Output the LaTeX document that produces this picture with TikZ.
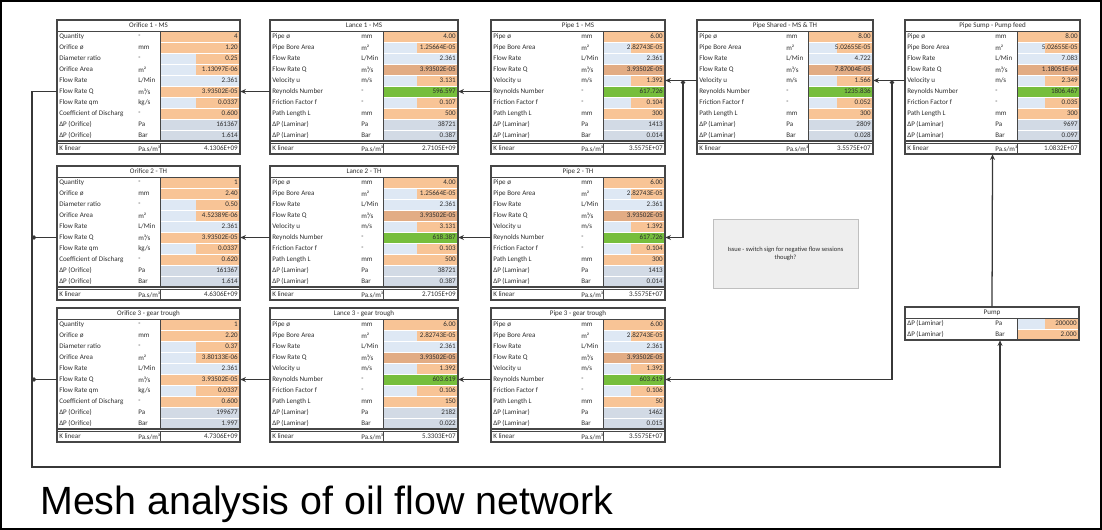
\documentclass[tikz,border=0pt]{standalone}
\usepackage{fontspec}
\setmainfont{Liberation Sans}
\newfontfamily\cellfamily{Carlito}
\usetikzlibrary{arrows.meta,calc}

\definecolor{cellorange}{RGB}{248,196,150}
\definecolor{cellblue}{RGB}{222,232,244}
\definecolor{cellgray}{RGB}{210,218,229}
\definecolor{cellgreen}{RGB}{118,190,60}
\definecolor{cellbrown}{RGB}{226,172,132}
\definecolor{celltext}{RGB}{45,45,45}
\definecolor{framegray}{RGB}{70,70,70}
\definecolor{linegray}{RGB}{55,55,55}
\definecolor{notefill}{RGB}{238,238,238}

\newcommand{\px}{0.025cm}
\newcommand{\cellfont}{\cellfamily\fontsize{5}{6}\selectfont}

\tikzset{
  tabrow/.style={inner sep=0pt, minimum height=11*\px},
  celltxt/.style={inner sep=0pt, font=\cellfont, text=celltext},
  tabframe/.style={draw=framegray, line width=0.8pt},
  tabline/.style={draw=framegray, line width=0.4pt},
  cello/.style={fill=cellorange},
  cellb/.style={fill=cellblue},
  cellp/.style={fill=cellgray},
  cellg/.style={fill=cellgreen},
  cellq/.style={fill=cellbrown},
  cellm/.style={fill=cellblue, path picture={\fill[cellorange]
      ($(path picture bounding box.south west)!0.45!(path picture bounding box.south east)$)
      rectangle (path picture bounding box.north east);}},
  flow/.style={draw=linegray, line width=0.9pt},
  tip/.style={-{Stealth[length=4pt,width=3.5pt]}},
  joint/.style={{Circle[length=3pt]}-{Stealth[length=4pt,width=3.5pt]}},
  endjoint/.style={-{Circle[length=3pt]}},
  notebox/.style={fill=notefill, draw=black!25, inner sep=2pt,
    font=\cellfamily\fontsize{4.6}{5.6}\selectfont, text=celltext,
    align=center, minimum width=145*\px, minimum height=69*\px},
}

% one spreadsheet block: name, left, top, width, value width, title, rows, K linear, row count
\newcommand{\flowtab}[9]{%
  \begin{scope}[shift={(#2,#3)}]
    \node[tabrow, celltxt, minimum width=#4*\px] (#1) at (#4/2,5.5) {#6};
    \foreach \lab/\unit/\val/\k [count=\i] in {#7} {
      \path[cell\k, draw=white, line width=0.5pt] (#4-#5,11*\i) rectangle (#4,11*\i+11);
      \node[tabrow, minimum width=#4*\px] (#1-\i) at (#4/2,11*\i+5.5) {};
      \node[celltxt, anchor=west] (#1-\i-l) at (2,11*\i+5.5) {\lab};
      \node[celltxt, anchor=west] (#1-\i-u) at (#4-#5-22,11*\i+5.5) {\unit};
      \node[celltxt, anchor=east] (#1-\i-v) at (#4-2,11*\i+5.5) {\val};
    }
    \draw[tabline] (0,11) -- (#4,11) (#4-#5,11) -- (#4-#5,11+11*#9);
    \ifx\relax#8\relax
      \draw[tabframe] (0,0) rectangle (#4,11+11*#9);
    \else
      \node[tabrow, minimum width=#4*\px] (#1-k) at (#4/2,18.5+11*#9) {};
      \node[celltxt, anchor=west] (#1-k-l) at (2,18.5+11*#9) {K linear};
      \node[celltxt, anchor=west] (#1-k-u) at (#4-#5-22,18.5+11*#9) {Pa.s/m³};
      \node[celltxt, anchor=east] (#1-k-v) at (#4-2,18.5+11*#9) {#8};
      \draw[tabline] (0,13+11*#9) -- (#4,13+11*#9) (#4-#5,13+11*#9) -- (#4-#5,24+11*#9);
      \draw[tabframe] (0,11+11*#9) -- (#4,11+11*#9);
      \draw[tabframe] (0,0) rectangle (#4,24+11*#9);
    \fi
  \end{scope}}

\begin{document}
\begin{tikzpicture}[x=\px,y=-\px]
  \useasboundingbox (0,0) rectangle (1102,530);
  \draw[line width=1.4pt] (1,1) rectangle (1101,529);

  % orifices
  \flowtab{o1}{57}{20}{183}{80}{Orifice 1 - MS}{Quantity/-/4/o, Orifice ø/mm/1.20/o,
    Diameter ratio/-/0.25/m, Orifice Area/m²/1.13097E-06/m, Flow Rate/{L/Min}/2.361/b,
    Flow Rate Q/{m³/s}/3.93502E-05/o, Flow Rate qm/{kg/s}/0.0337/m,
    Coefficient of Discharg/-/0.600/o, ΔP (Orifice)/Pa/161367/p, ΔP (Orifice)/Bar/1.614/p}{4.1306E+09}{10}
  \flowtab{o2}{57}{166}{183}{80}{Orifice 2 - TH}{Quantity/-/1/o, Orifice ø/mm/2.40/o,
    Diameter ratio/-/0.50/m, Orifice Area/m²/4.52389E-06/m, Flow Rate/{L/Min}/2.361/b,
    Flow Rate Q/{m³/s}/3.93502E-05/o, Flow Rate qm/{kg/s}/0.0337/m,
    Coefficient of Discharg/-/0.620/o, ΔP (Orifice)/Pa/161367/p, ΔP (Orifice)/Bar/1.614/p}{4.6306E+09}{10}
  \flowtab{o3}{57}{308}{183}{80}{Orifice 3 - gear trough}{Quantity/-/1/o, Orifice ø/mm/2.20/o,
    Diameter ratio/-/0.37/m, Orifice Area/m²/3.80133E-06/m, Flow Rate/{L/Min}/2.361/b,
    Flow Rate Q/{m³/s}/3.93502E-05/o, Flow Rate qm/{kg/s}/0.0337/m,
    Coefficient of Discharg/-/0.600/o, ΔP (Orifice)/Pa/199677/p, ΔP (Orifice)/Bar/1.997/p}{4.7306E+09}{10}

  % lances
  \flowtab{l1}{270}{20}{188}{75}{Lance 1 - MS}{Pipe ø/mm/4.00/o, Pipe Bore Area/m²/1.25664E-05/m,
    Flow Rate/{L/Min}/2.361/b, Flow Rate Q/{m³/s}/3.93502E-05/q, Velocity u/{m/s}/3.131/m,
    Reynolds Number/-/596.597/g, Friction Factor f/-/0.107/m, Path Length L/mm/500/o,
    ΔP (Laminar)/Pa/38721/p, ΔP (Laminar)/Bar/0.387/p}{2.7105E+09}{10}
  \flowtab{l2}{270}{166}{188}{75}{Lance 2 - TH}{Pipe ø/mm/4.00/o, Pipe Bore Area/m²/1.25664E-05/m,
    Flow Rate/{L/Min}/2.361/b, Flow Rate Q/{m³/s}/3.93502E-05/q, Velocity u/{m/s}/3.131/m,
    Reynolds Number/-/618.387/g, Friction Factor f/-/0.103/m, Path Length L/mm/500/o,
    ΔP (Laminar)/Pa/38721/p, ΔP (Laminar)/Bar/0.387/p}{2.7105E+09}{10}
  \flowtab{l3}{270}{308}{188}{75}{Lance 3 - gear trough}{Pipe ø/mm/6.00/o, Pipe Bore Area/m²/2.82743E-05/m,
    Flow Rate/{L/Min}/2.361/b, Flow Rate Q/{m³/s}/3.93502E-05/q, Velocity u/{m/s}/1.392/m,
    Reynolds Number/-/603.619/g, Friction Factor f/-/0.106/m, Path Length L/mm/150/o,
    ΔP (Laminar)/Pa/2182/p, ΔP (Laminar)/Bar/0.022/p}{5.3303E+07}{10}

  % pipes
  \flowtab{p1}{491}{20}{174}{62}{Pipe 1 - MS}{Pipe ø/mm/6.00/o, Pipe Bore Area/m²/2.82743E-05/m,
    Flow Rate/{L/Min}/2.361/b, Flow Rate Q/{m³/s}/3.93502E-05/q, Velocity u/{m/s}/1.392/m,
    Reynolds Number/-/617.726/g, Friction Factor f/-/0.104/m, Path Length L/mm/300/o,
    ΔP (Laminar)/Pa/1413/p, ΔP (Laminar)/Bar/0.014/p}{3.5575E+07}{10}
  \flowtab{p2}{491}{166}{174}{62}{Pipe 2 - TH}{Pipe ø/mm/6.00/o, Pipe Bore Area/m²/2.82743E-05/m,
    Flow Rate/{L/Min}/2.361/b, Flow Rate Q/{m³/s}/3.93502E-05/q, Velocity u/{m/s}/1.392/m,
    Reynolds Number/-/617.726/g, Friction Factor f/-/0.104/m, Path Length L/mm/300/o,
    ΔP (Laminar)/Pa/1413/p, ΔP (Laminar)/Bar/0.014/p}{3.5575E+07}{10}
  \flowtab{p3}{491}{308}{174}{62}{Pipe 3 - gear trough}{Pipe ø/mm/6.00/o, Pipe Bore Area/m²/2.82743E-05/m,
    Flow Rate/{L/Min}/2.361/b, Flow Rate Q/{m³/s}/3.93502E-05/q, Velocity u/{m/s}/1.392/m,
    Reynolds Number/-/603.619/g, Friction Factor f/-/0.106/m, Path Length L/mm/50/o,
    ΔP (Laminar)/Pa/1462/p, ΔP (Laminar)/Bar/0.015/p}{3.5575E+07}{10}
  \flowtab{ps}{697}{20}{176}{65}{Pipe Shared - MS \& TH}{Pipe ø/mm/8.00/o, Pipe Bore Area/m²/5.02655E-05/m,
    Flow Rate/{L/Min}/4.722/b, Flow Rate Q/{m³/s}/7.87004E-05/q, Velocity u/{m/s}/1.566/m,
    Reynolds Number/-/1235.836/g, Friction Factor f/-/0.052/m, Path Length L/mm/300/o,
    ΔP (Laminar)/Pa/2809/p, ΔP (Laminar)/Bar/0.028/p}{3.5575E+07}{10}
  \flowtab{sump}{905}{20}{175}{63}{Pipe Sump - Pump feed}{Pipe ø/mm/8.00/o, Pipe Bore Area/m²/5.02655E-05/m,
    Flow Rate/{L/Min}/7.083/b, Flow Rate Q/{m³/s}/1.18051E-04/q, Velocity u/{m/s}/2.349/m,
    Reynolds Number/-/1806.467/g, Friction Factor f/-/0.035/m, Path Length L/mm/300/o,
    ΔP (Laminar)/Pa/9697/p, ΔP (Laminar)/Bar/0.097/p}{1.0832E+07}{10}

  % pump
  \flowtab{pump}{905}{307}{174}{62}{Pump}{ΔP (Laminar)/Pa/200000/m, ΔP (Laminar)/Bar/2.000/o}{}{2}

  \node[notebox] (note) at (785.5,253.5) {Issue - switch sign for negative flow sessions\\ though?};

  \coordinate (bl) at (32,467);
  \coordinate (br) at (1000,467);
  \coordinate (ja) at (683,0);
  \coordinate (jb) at (892,0);

  % return to pump
  \draw[flow, tip] (o1-6.west) -| (bl) -- (br) -- (br |- pump-2.south);
  \draw[flow, endjoint] (o2-6.west) -- (bl |- o2-6.west);
  \draw[flow, endjoint] (o3-6.west) -- (bl |- o3-6.west);
  % lances to orifices
  \draw[flow, tip] (l1-6.west) -- (o1-6.east);
  \draw[flow, tip] (l2-6.west) -- (o2-6.east);
  \draw[flow, tip] (l3-6.west) -- (o3-6.east);
  % pipes to lances
  \draw[flow, tip] (p1-6.west) -- (l1-6.east);
  \draw[flow, tip] (p2-6.west) -- (l2-6.east);
  \draw[flow, tip] (p3-6.west) -- (l3-6.east);
  % shared pipe and sump
  \draw[flow, tip] (ps-5.west) -- (p1-5.east);
  \draw[flow, joint] (ja |- ps-5.west) |- (p2-6.east);
  \draw[flow, tip] (sump-5.west) -- (ps-5.east);
  \draw[flow, joint] (jb |- sump-5.west) |- (p3-6.east);
  \draw[flow, tip] (pump.north) -- (sump-k.south);

  \node[anchor=base west, inner sep=0pt, font=\fontsize{28}{32}\selectfont] (caption) at (40,514)
    {Mesh analysis of oil flow network};
\end{tikzpicture}
\end{document}
